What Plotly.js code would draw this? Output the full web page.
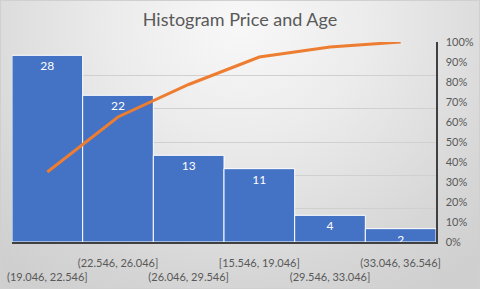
<!DOCTYPE html>
<html>
<head>
<meta charset="utf-8">
<script src="https://cdn.plot.ly/plotly-3.0.1.min.js"></script>
<style>
html,body{margin:0;padding:0;}
body{width:480px;height:289px;overflow:hidden;}
#wrap{width:480px;height:289px;box-sizing:border-box;border:1px solid #d0d0d0;
background:radial-gradient(ellipse 75% 110% at 50% 8%, #f8f8f8 0%, #ececec 35%, #d6d6d6 80%, #cfcfcf 100%);}
#chart{width:478px;height:287px;}
</style>
</head>
<body>
<div id="wrap"><div id="chart"></div></div>
<script>
var categories = ["(19.046, 22.546]", "(22.546, 26.046]", "(26.046, 29.546]", "[15.546, 19.046]", "(29.546, 33.046]", "(33.046, 36.546]"];
var counts = [28, 22, 13, 11, 4, 2];
var cumulativePct = [0.35, 0.625, 0.7875, 0.925, 0.975, 1.0];
var title = "Histogram Price and Age";

var tickText = categories.map(function(c, i){ return i % 2 === 0 ? "<br>" + c : c; });

var bars = {
  type: "bar", x: categories, y: counts,
  marker: {color: "#4472C4", line: {color: "#ffffff", width: 1}},
  text: counts.map(String), textposition: "inside", insidetextanchor: "end",
  textangle: 0, constraintext: "none",
  textfont: {color: "#ffffff", size: 12, family: "Lato, 'Liberation Sans', sans-serif"},
  cliponaxis: false, hoverinfo: "none"
};
var line = {
  type: "scatter", mode: "lines", x: categories, y: cumulativePct, yaxis: "y2",
  line: {color: "#ED7D31", width: 3}, hoverinfo: "none"
};
var layout = {
  width: 478, height: 287,
  margin: {l: 11, r: 43, t: 41, b: 46},
  paper_bgcolor: "rgba(0,0,0,0)", plot_bgcolor: "rgba(0,0,0,0)",
  showlegend: false, bargap: 0,
  font: {family: "Lato, 'Liberation Sans', sans-serif", color: "#595959", size: 11},
  title: {text: title, x: 0.5, xanchor: "center", y: 0.935, yanchor: "middle",
    font: {size: 18, color: "#595959", family: "Lato, 'Liberation Sans', sans-serif"}},
  xaxis: {type: "category", tickmode: "array", tickvals: categories, ticktext: tickText,
    tickangle: 0, automargin: false, ticklabelstandoff: 10,
    showline: true, linecolor: "#404040", linewidth: 1.5, ticks: "", showgrid: false,
    tickfont: {size: 11, color: "#595959"}, fixedrange: true},
  yaxis: {range: [0, 30], dtick: 5, showticklabels: false, showgrid: true,
    gridcolor: "#d0d0d0", gridwidth: 1, zeroline: false, showline: false, fixedrange: true},
  yaxis2: {overlaying: "y", side: "right", range: [0, 1], dtick: 0.1, tickformat: ".0%",
    showgrid: false, zeroline: false, showline: true, linecolor: "#404040", linewidth: 1.5,
    ticks: "", ticklabelstandoff: 6, automargin: false,
    tickfont: {size: 11, color: "#595959"}, fixedrange: true}
};
Plotly.newPlot("chart", [bars, line], layout, {displayModeBar: false, staticPlot: true});
</script>
</body>
</html>
